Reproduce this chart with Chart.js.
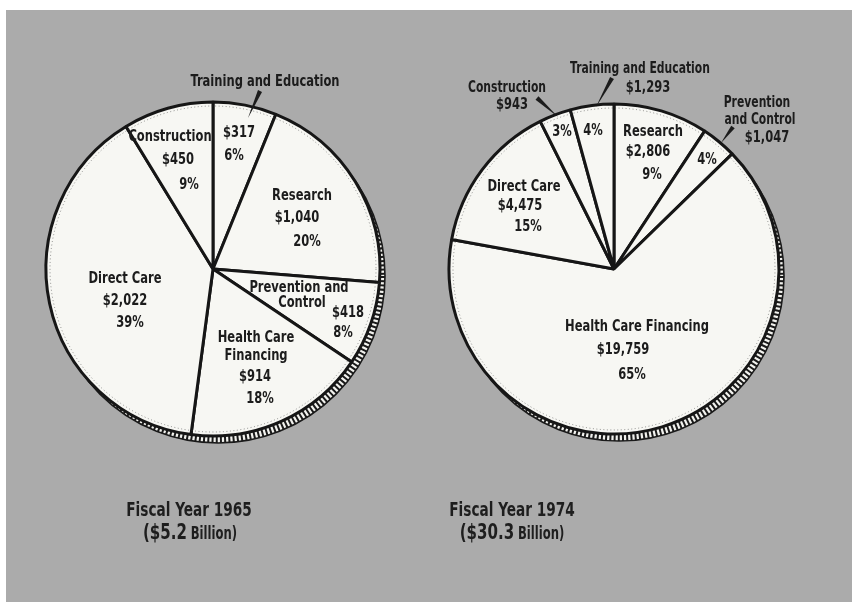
<!DOCTYPE html>
<html><head><meta charset="utf-8">
<script src="https://cdn.jsdelivr.net/npm/chart.js@4.4.1/dist/chart.umd.min.js"></script>
<style>
html,body{margin:0;padding:0;background:#fff;}
#page{position:relative;width:852px;height:602px;overflow:hidden;background:#fff;}
#bg{position:absolute;left:6px;top:10px;right:0;bottom:0;background:#ababab;}
canvas{position:absolute;top:0;}
.title{position:absolute;font-family:"DejaVu Sans Condensed","DejaVu Sans",sans-serif;font-weight:bold;color:#1e1e1e;text-align:center;width:240px;line-height:1;white-space:nowrap;transform:scaleX(0.76);transform-origin:50% 50%;}
.big{font-size:22px;}
.small{font-size:17px;}
</style></head>
<body><div id="page"><div id="bg"></div>
<canvas id="c1" width="426" height="602" style="left:0"></canvas>
<canvas id="c2" width="426" height="602" style="left:426px"></canvas>
<div class="title" id="t1a" style="left:69px;top:499px;font-size:20px"></div>
<div class="title" id="t1b" style="left:70px;top:521px"></div>
<div class="title" id="t2a" style="left:392px;top:499px;font-size:20px"></div>
<div class="title" id="t2b" style="left:392px;top:521px"></div>
</div>
<script>
// ---- data ----
const categories1965 = ['Training and Education','Research','Prevention and Control','Health Care Financing','Direct Care','Construction'];
const values1965 = [317, 1040, 418, 914, 2022, 450];
const shares1965 = [6, 20, 8, 18, 39, 9];
const categories1974 = ['Research','Prevention and Control','Health Care Financing','Direct Care','Construction','Training and Education'];
const values1974 = [2806, 1047, 19759, 4475, 943, 1293];
const shares1974 = [9, 4, 65, 15, 3, 4];
const years = ['1965', '1974'];
const totals = ['5.2', '30.3'];

// ---- label layout (offsets from pie centre, px) ----
const layout1965 = {
  'Training and Education': {lines:['Training and Education'], name:[[52,-187]], value:[26,-136], share:[21,-113], leader:[[47,-178],[35,-151]]},
  'Research': {lines:['Research'], name:[[89,-73]], value:[84,-51], share:[94,-27]},
  'Prevention and Control': {lines:['Prevention and','Control'], name:[[86,19],[89,34]], value:[135,44], share:[130,64]},
  'Health Care Financing': {lines:['Health Care','Financing'], name:[[43,69],[43,87]], value:[42,108], share:[47,130]},
  'Direct Care': {lines:['Direct Care'], name:[[-88,10]], value:[-88,32], share:[-83,54]},
  'Construction': {lines:['Construction'], name:[[-43,-132]], value:[-35,-109], share:[-24,-84]}
};
const layout1974 = {
  'Research': {lines:['Research'], name:[[39,-137]], value:[34,-117], share:[38,-94]},
  'Prevention and Control': {lines:['Prevention','and Control'], name:[[143,-166],[146,-149]], value:[153,-131], share:[93,-109], leader:[[119,-142],[107,-126]], small:true},
  'Health Care Financing': {lines:['Health Care Financing'], name:[[23,58]], value:[9,81], share:[18,106]},
  'Direct Care': {lines:['Direct Care'], name:[[-90,-82]], value:[-94,-63], share:[-86,-42]},
  'Construction': {lines:['Construction'], name:[[-107,-181]], value:[-102,-164], share:[-52,-137], leader:[[-77,-171],[-56,-152]], small:true},
  'Training and Education': {lines:['Training and Education'], name:[[26,-200]], value:[34,-181], share:[-21,-138], leader:[[-2,-191],[-18,-162]], small:true}
};

const FONT = '"DejaVu Sans Condensed","DejaVu Sans",sans-serif';
const INK = '#1c1c1c';
const SQUEEZE = 0.8;

function squeezedText(ctx, t, x, y) {
  ctx.save();
  ctx.translate(x, y);
  ctx.scale(SQUEEZE, 1);
  ctx.fillText(t, 0, 0);
  ctx.restore();
}

const pieDecor = {
  id: 'pieDecor',
  beforeDatasetsDraw(chart, args, o) {
    const a = chart.getDatasetMeta(0).data[0];
    if (!a) return;
    const ctx = chart.ctx, x = a.x + o.sx, y = a.y + o.sy, r = a.outerRadius;
    ctx.save();
    ctx.beginPath(); ctx.arc(x, y, r, 0, Math.PI * 2);
    ctx.fillStyle = '#f2f2ee'; ctx.fill();
    ctx.setLineDash([2, 2.2]); ctx.lineWidth = 8; ctx.strokeStyle = '#1a1a1a';
    ctx.beginPath(); ctx.arc(x, y, r - 4, 0, Math.PI * 2); ctx.stroke();
    ctx.setLineDash([]); ctx.lineWidth = 1.6;
    ctx.beginPath(); ctx.arc(x, y, r, 0, Math.PI * 2); ctx.stroke();
    ctx.restore();
  },
  afterDatasetsDraw(chart, args, o) {
    const meta = chart.getDatasetMeta(0);
    const a = meta.data[0];
    if (!a) return;
    const ctx = chart.ctx, cx = a.x, cy = a.y, r = a.outerRadius;
    ctx.save();
    ctx.setLineDash([1, 2.5]); ctx.lineWidth = 1; ctx.strokeStyle = 'rgba(60,60,60,0.55)';
    ctx.beginPath(); ctx.arc(cx, cy, r - 4, 0, Math.PI * 2); ctx.stroke();
    ctx.setLineDash([]);
    const labels = chart.data.labels;
    const ds = chart.data.datasets[0];
    ctx.fillStyle = INK; ctx.textAlign = 'center'; ctx.textBaseline = 'middle';
    labels.forEach((cat, i) => {
      const L = o.layout[cat];
      if (!L) return;
      const size = L.small ? 15 : 16;
      ctx.font = 'bold ' + size + 'px ' + FONT;
      L.lines.forEach((t, k) => squeezedText(ctx, t, cx + L.name[k][0], cy + L.name[k][1]));
      ctx.font = 'bold 16px ' + FONT;
      squeezedText(ctx, '$' + ds.data[i].toLocaleString('en-US'), cx + L.value[0], cy + L.value[1]);
      squeezedText(ctx, o.shares[i] + '%', cx + L.share[0], cy + L.share[1]);
      if (L.leader) {
        const [p, q] = L.leader;
        const x1 = cx + p[0], y1 = cy + p[1], x2 = cx + q[0], y2 = cy + q[1];
        const dx = x2 - x1, dy = y2 - y1, len = Math.hypot(dx, dy);
        const nx = -dy / len * 2.2, ny = dx / len * 2.2;
        ctx.beginPath();
        ctx.moveTo(x1 + nx, y1 + ny); ctx.lineTo(x1 - nx, y1 - ny); ctx.lineTo(x2, y2); ctx.closePath();
        ctx.fill();
      }
    });
    ctx.restore();
  }
};

function makePie(id, cats, vals, shares, layout, radius, padding, shadow) {
  return new Chart(document.getElementById(id), {
    type: 'pie',
    data: { labels: cats, datasets: [{ data: vals, backgroundColor: '#f7f7f3', borderColor: '#161616', borderWidth: 3, radius: radius }] },
    options: {
      responsive: false, animation: false, events: [],
      layout: { padding: padding },
      plugins: { legend: { display: false }, tooltip: { enabled: false },
        pieDecor: { layout: layout, shares: shares, sx: shadow[0], sy: shadow[1] } }
    },
    plugins: [pieDecor]
  });
}

makePie('c1', categories1965, values1965, shares1965, layout1965, 167, {left:0, right:0, top:0, bottom:64}, [5, 7]);
makePie('c2', categories1974, values1974, shares1974, layout1974, 165, {left:0, right:50, top:0, bottom:64}, [5, 7]);

document.getElementById('t1a').textContent = 'Fiscal Year ' + years[0];
document.getElementById('t2a').textContent = 'Fiscal Year ' + years[1];
document.getElementById('t1b').innerHTML = '<span class="big">($' + totals[0] + '</span> <span class="small">Billion)</span>';
document.getElementById('t2b').innerHTML = '<span class="big">($' + totals[1] + '</span> <span class="small">Billion)</span>';
</script>
</body></html>
